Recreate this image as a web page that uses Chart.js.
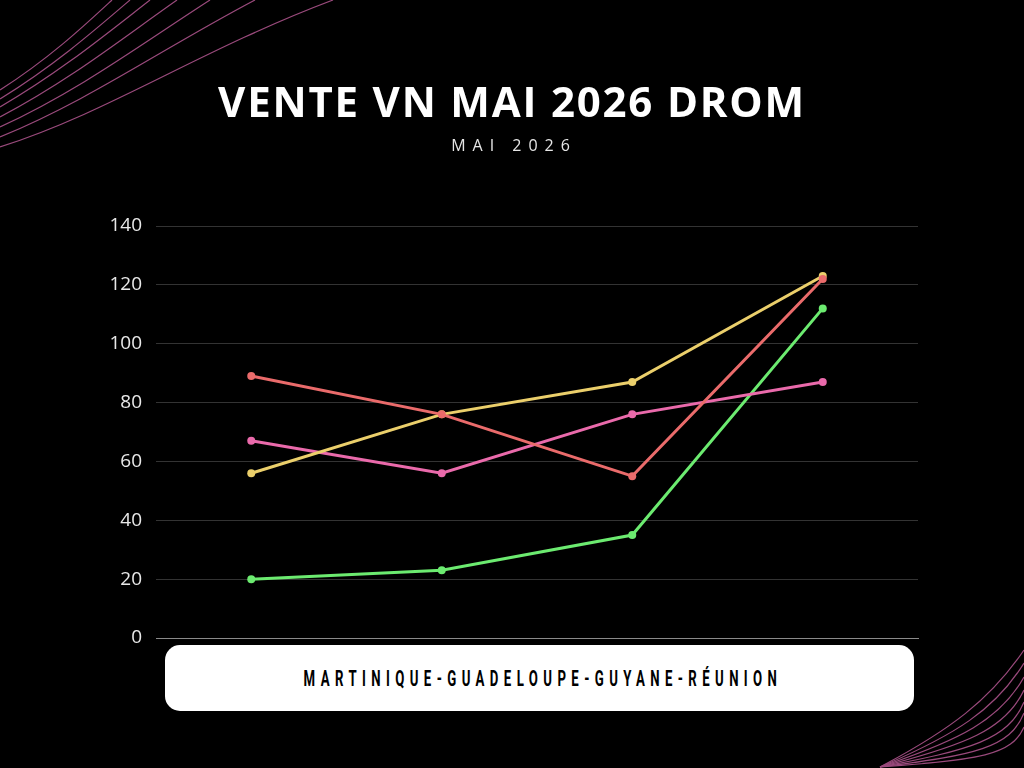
<!DOCTYPE html>
<html>
<head>
<meta charset="utf-8">
<script src="https://cdn.jsdelivr.net/npm/chart.js@4/dist/chart.umd.min.js"></script>
<style>
  html, body { margin:0; padding:0; background:#000; }
  #wrap { position:relative; width:1024px; height:768px; background:#000; overflow:hidden; }
  #deco { position:absolute; left:0; top:0; }
  #chartBox { position:absolute; left:0; top:0; width:1024px; height:768px; }
  #title { position:absolute; left:0; width:1024px; top:75px; text-align:center; color:#fff;
           font-family:"Open Sans", sans-serif; font-weight:700; font-size:42px; letter-spacing:1.8px; line-height:52px; }
  #subtitle { position:absolute; left:2px; width:1024px; top:135px; text-align:center; color:#e6e6e6;
           font-family:"Open Sans", sans-serif; font-weight:400; font-size:16px; letter-spacing:7px; line-height:20px; }
  #banner { position:absolute; left:165px; top:645px; width:749px; height:66px; background:#fff; border-radius:15px;
           display:flex; align-items:center; justify-content:center; }
  #banner span { display:inline-block; font-family:"Roboto",sans-serif; font-weight:700; font-size:22px;
           letter-spacing:9px; color:#000; transform:scaleX(0.6); white-space:nowrap; margin-left:6px; }
</style>
</head>
<body>
<div id="wrap">
  <svg id="deco" width="1024" height="768" xmlns="http://www.w3.org/2000/svg">
    <g fill="none" stroke="#9a4a7c" stroke-width="1.2">
      <path d="M0,147 C110,112 200,50 333,0"/>
      <path d="M0,137 C90,100 160,50 255,0"/>
      <path d="M0,127 C80,90 140,45 210,0"/>
      <path d="M0,117 C70,80 120,40 177,0"/>
      <path d="M0,107 C60,72 105,35 150,0"/>
      <path d="M0,99 C55,65 95,30 130,0"/>
      <path d="M0,90 C50,58 85,25 112,0"/>
      <path d="M880,767 C950,730 990,700 1024,650"/>
      <path d="M880,767 C955,735 995,710 1024,663"/>
      <path d="M880,767 C960,740 1000,720 1024,677"/>
      <path d="M880,767 C965,745 1005,730 1024,690"/>
      <path d="M880,767 C970,750 1008,740 1024,702"/>
      <path d="M880,767 C975,755 1010,748 1024,713"/>
      <path d="M880,767 C980,760 1012,755 1024,727"/>
    </g>
  </svg>
  <div id="chartBox"><canvas id="c" width="1024" height="768"></canvas></div>
  <div id="title">VENTE VN MAI 2026 DROM</div>
  <div id="subtitle">MAI 2026</div>
  <div id="banner"><span>MARTINIQUE-GUADELOUPE-GUYANE-RÉUNION</span></div>
</div>
<script>
const categories = ["1", "2", "3", "4"];
const seriesRed = [89, 76, 55, 122];
const seriesYellow = [56, 76, 87, 123];
const seriesPink = [67, 56, 76, 87];
const seriesGreen = [20, 23, 35, 112];
const yTicks = [0, 20, 40, 60, 80, 100, 120, 140];

function ds(label, data, color) {
  return { label, data, borderColor: color, backgroundColor: color, borderWidth: 3,
           pointRadius: 4, pointHoverRadius: 4, pointBackgroundColor: color, pointBorderWidth: 0, tension: 0 };
}

new Chart(document.getElementById('c'), {
  type: 'line',
  data: {
    labels: categories,
    datasets: [
      ds('Réunion', seriesRed, '#ea6b6b'),
      ds('Guadeloupe', seriesYellow, '#ebcf6b'),
      ds('Martinique', seriesPink, '#ea6aab'),
      ds('Guyane', seriesGreen, '#6ceb70')
    ]
  },
  options: {
    responsive: false,
    animation: false,
    devicePixelRatio: 1,
    layout: { padding: { left: 90, right: 106, top: 226, bottom: 130 } },
    plugins: { legend: { display: false }, tooltip: { enabled: false } },
    scales: {
      x: {
        offset: true,
        ticks: { display: false },
        grid: { display: false },
        border: { display: true, color: '#8a8a8a', width: 1 },
        afterFit: s => { s.height = 0; }
      },
      y: {
        min: 0, max: 140,
        afterBuildTicks: s => { s.ticks = yTicks.map(v => ({ value: v })); },
        ticks: { color: '#e8e8e8', padding: 14, font: { family: 'Open Sans', size: 19 } },
        grid: { color: ctx => ctx.tick && ctx.tick.value === 0 ? '#8a8a8a' : '#333333', lineWidth: 1, drawTicks: false },
        border: { display: false },
        afterFit: s => { s.width = 66; }
      }
    }
  }
});
</script>
</body>
</html>
